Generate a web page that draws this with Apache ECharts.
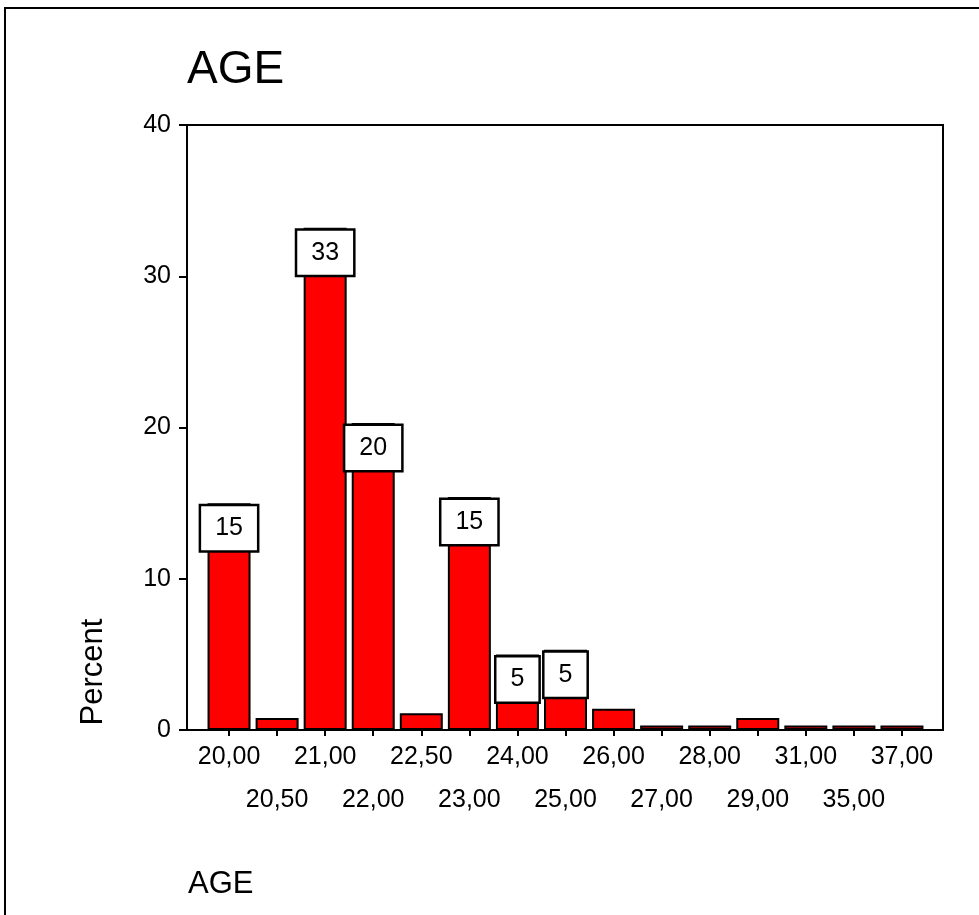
<!DOCTYPE html>
<html>
<head>
<meta charset="utf-8">
<script src="https://cdn.jsdelivr.net/npm/echarts@6/dist/echarts.min.js"></script>
<style>
  html, body { margin: 0; padding: 0; background: #fff; }
  #chart { width: 979px; height: 915px; }
</style>
</head>
<body>
<div id="chart"></div>
<script>
// Age categories (x axis) and percent of respondents per age
const ages = ['20,00', '20,50', '21,00', '22,00', '22,50', '23,00', '24,00', '25,00',
              '26,00', '27,00', '28,00', '29,00', '31,00', '35,00', '37,00'];
const percents = [15.0, 0.8, 33.2, 20.3, 1.1, 15.4, 5.0, 5.3, 1.4, 0.3, 0.3, 0.8, 0.3, 0.3, 0.3];
// y axis ticks
const yTicks = [0, 10, 20, 30, 40];
// only bars of at least this size carry a value box
const labelThreshold = 5;

const FONT = '"Liberation Sans", Arial, sans-serif';

const chart = echarts.init(document.getElementById('chart'), null, { renderer: 'canvas' });

const barData = percents.map(v => ({
  value: v,
  label: { show: v >= labelThreshold }
}));

chart.setOption({
  animation: false,
  backgroundColor: '#ffffff',
  title: [
    { text: 'AGE', left: 182, top: 42,
      textStyle: { fontFamily: FONT, fontSize: 46, fontWeight: 'normal', color: '#000' } },
    { text: 'AGE', left: 183, top: 864,
      textStyle: { fontFamily: FONT, fontSize: 31, fontWeight: 'normal', color: '#000' } }
  ],
  graphic: [
    { type: 'rect', silent: true, z: -1,
      shape: { x: 5, y: 8, width: 1200, height: 1200 },
      style: { fill: 'none', stroke: '#000', lineWidth: 2 } },
    { type: 'text', silent: true, x: 93, y: 672, rotation: Math.PI / 2,
      style: { text: 'Percent', font: '31px ' + FONT, fill: '#000',
               textAlign: 'center', textVerticalAlign: 'middle' } }
  ],
  grid: [
    // frame of the plot area
    { left: 187, top: 125, width: 756, height: 605, show: true,
      borderColor: '#000', borderWidth: 2, backgroundColor: 'transparent' },
    // bar area, inset from the frame
    { left: 205, top: 125, width: 721, height: 605 }
  ],
  xAxis: [
    { gridIndex: 0, type: 'value', min: 0, max: 1, show: false },
    { gridIndex: 1, type: 'category', data: ages,
      axisLine: { show: false },
      axisTick: { show: true, alignWithLabel: true, length: 6,
                  lineStyle: { color: '#000', width: 2 } },
      axisLabel: {
        interval: 0, margin: 6, color: '#000', fontFamily: FONT, fontSize: 25,
        lineHeight: 43,
        formatter: (v, i) => (i % 2 ? '\n' + v : v)
      }
    }
  ],
  yAxis: [
    { gridIndex: 0, type: 'value', min: yTicks[0], max: yTicks[yTicks.length - 1], interval: 10,
      axisLine: { show: true, lineStyle: { color: '#000', width: 2 } },
      axisTick: { show: true, length: 8, lineStyle: { color: '#000', width: 2 } },
      splitLine: { show: false },
      axisLabel: { margin: 16, color: '#000', fontFamily: FONT, fontSize: 25 } },
    { gridIndex: 1, type: 'value', min: yTicks[0], max: yTicks[yTicks.length - 1], show: false }
  ],
  series: [{
    type: 'bar',
    xAxisIndex: 1, yAxisIndex: 1,
    data: barData,
    barWidth: 43,
    itemStyle: { color: '#ff0000', borderColor: '#000', borderWidth: 2 },
    label: {
      position: 'insideTop', distance: 3,
      formatter: p => String(Math.round(p.value)),
      color: '#000', fontFamily: FONT, fontSize: 25, lineHeight: 26,
      backgroundColor: '#fff', borderColor: '#000', borderWidth: 2.5,
      padding: [9, 14]
    }
  }]
});
</script>
</body>
</html>
